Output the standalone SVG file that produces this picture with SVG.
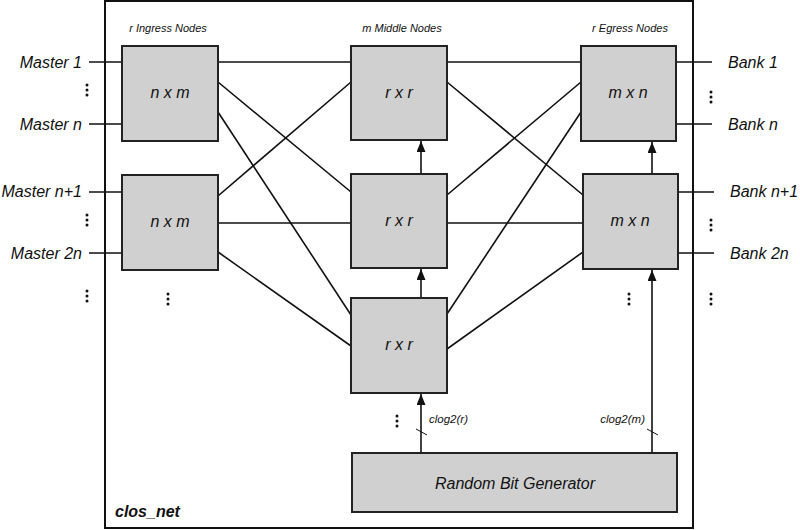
<svg xmlns="http://www.w3.org/2000/svg" width="800" height="530" viewBox="0 0 800 530">
<style>
text{font-family:"Liberation Sans",Arial,sans-serif;font-style:italic;fill:#111}
.box{fill:#d0d0d0;stroke:#222;stroke-width:2}
.w{stroke:#111;stroke-width:1.6;fill:none}
.lbl{font-size:16px;text-anchor:middle}
.io{font-size:16px}
.hdr{font-size:11px;text-anchor:middle}
.sm{font-size:11.5px}
.dot{fill:#111}
</style>
<defs>
<marker id="ah" markerUnits="userSpaceOnUse" markerWidth="11" markerHeight="9" viewBox="0 0 11 9" refX="11" refY="4.5" orient="auto">
<path d="M0,0 L11,4.5 L0,9 Z" fill="#111"/>
</marker>
<g id="vd"><circle cx="0" cy="-5" r="1.5"/><circle cx="0" cy="0" r="1.5"/><circle cx="0" cy="5" r="1.5"/></g>
</defs>
<rect x="105" y="1" width="588" height="527" fill="none" stroke="#111" stroke-width="2"/>
<text x="115" y="517" class="io" style="font-weight:bold">clos_net</text>
<text x="168" y="32" class="hdr">r Ingress Nodes</text>
<text x="402" y="32" class="hdr">m Middle Nodes</text>
<text x="630" y="32" class="hdr">r Egress Nodes</text>
<g id="connectors">
<line class="w" x1="89" y1="62" x2="122" y2="62"/>
<line class="w" x1="89" y1="124" x2="122" y2="124"/>
<line class="w" x1="89" y1="192" x2="122" y2="192"/>
<line class="w" x1="89" y1="253" x2="122" y2="253"/>
<line class="w" x1="218" y1="62" x2="351" y2="62"/>
<line class="w" x1="218" y1="82" x2="351" y2="192"/>
<line class="w" x1="218" y1="112" x2="351" y2="315"/>
<line class="w" x1="218" y1="196" x2="351" y2="82"/>
<line class="w" x1="218" y1="223" x2="351" y2="223"/>
<line class="w" x1="218" y1="252" x2="351" y2="346"/>
<line class="w" x1="447" y1="62" x2="581" y2="62"/>
<line class="w" x1="447" y1="82" x2="583" y2="195"/>
<line class="w" x1="447" y1="195" x2="581" y2="82"/>
<line class="w" x1="447" y1="223" x2="583" y2="223"/>
<line class="w" x1="447" y1="314" x2="581" y2="112"/>
<line class="w" x1="447" y1="349" x2="583" y2="252"/>
<line class="w" x1="676" y1="62" x2="712" y2="62"/>
<line class="w" x1="676" y1="124" x2="712" y2="124"/>
<line class="w" x1="678" y1="192" x2="714" y2="192"/>
<line class="w" x1="678" y1="253" x2="714" y2="253"/>
<line class="w" x1="421" y1="174" x2="421" y2="141" marker-end="url(#ah)"/>
<line class="w" x1="421" y1="298" x2="421" y2="269" marker-end="url(#ah)"/>
<line class="w" x1="421" y1="453" x2="421" y2="394" marker-end="url(#ah)"/>
<line class="w" x1="652" y1="174" x2="652" y2="142" marker-end="url(#ah)"/>
<line class="w" x1="652" y1="453" x2="652" y2="270" marker-end="url(#ah)"/>
<line stroke="#111" stroke-width="1" x1="416" y1="429" x2="427" y2="435"/>
<line stroke="#111" stroke-width="1" x1="647" y1="429" x2="658" y2="435"/>
</g>
<text x="429" y="423" class="sm">clog2(r)</text>
<text x="645" y="423" class="sm" text-anchor="end">clog2(m)</text>
<g id="master-labels">
<text x="82" y="68" class="io" text-anchor="end">Master 1</text>
<text x="82" y="130" class="io" text-anchor="end">Master n</text>
<text x="82" y="197" class="io" text-anchor="end">Master n+1</text>
<text x="82" y="259" class="io" text-anchor="end">Master 2n</text>
</g>
<g id="bank-labels">
<text x="728" y="68" class="io">Bank 1</text>
<text x="728" y="130" class="io">Bank n</text>
<text x="730" y="197" class="io">Bank n+1</text>
<text x="730" y="259" class="io">Bank 2n</text>
</g>
<g class="dot">
<use href="#vd" x="87" y="90"/>
<use href="#vd" x="87" y="220"/>
<use href="#vd" x="87" y="296"/>
<use href="#vd" x="168" y="299"/>
<use href="#vd" x="397" y="421"/>
<use href="#vd" x="629" y="299"/>
<use href="#vd" x="711" y="97"/>
<use href="#vd" x="711" y="225"/>
<use href="#vd" x="711" y="299"/>
</g>
<g id="ingress1"><rect class="box" x="122" y="46" width="96" height="95"/><text class="lbl" x="170" y="98">n x m</text></g>
<g id="ingress2"><rect class="box" x="122" y="175" width="96" height="95"/><text class="lbl" x="170" y="227">n x m</text></g>
<g id="middle1"><rect class="box" x="351" y="46" width="96" height="94"/><text class="lbl" x="399" y="98">r x r</text></g>
<g id="middle2"><rect class="box" x="351" y="174" width="96" height="94"/><text class="lbl" x="399" y="226">r x r</text></g>
<g id="middle3"><rect class="box" x="351" y="298" width="96" height="95"/><text class="lbl" x="399" y="350">r x r</text></g>
<g id="egress1"><rect class="box" x="581" y="46" width="95" height="95"/><text class="lbl" x="628" y="98">m x n</text></g>
<g id="egress2"><rect class="box" x="583" y="174" width="95" height="95"/><text class="lbl" x="630" y="226">m x n</text></g>
<g id="rbg"><rect class="box" x="352" y="453" width="325" height="59"/><text class="io" x="515" y="489" text-anchor="middle">Random Bit Generator</text></g>
</svg>
